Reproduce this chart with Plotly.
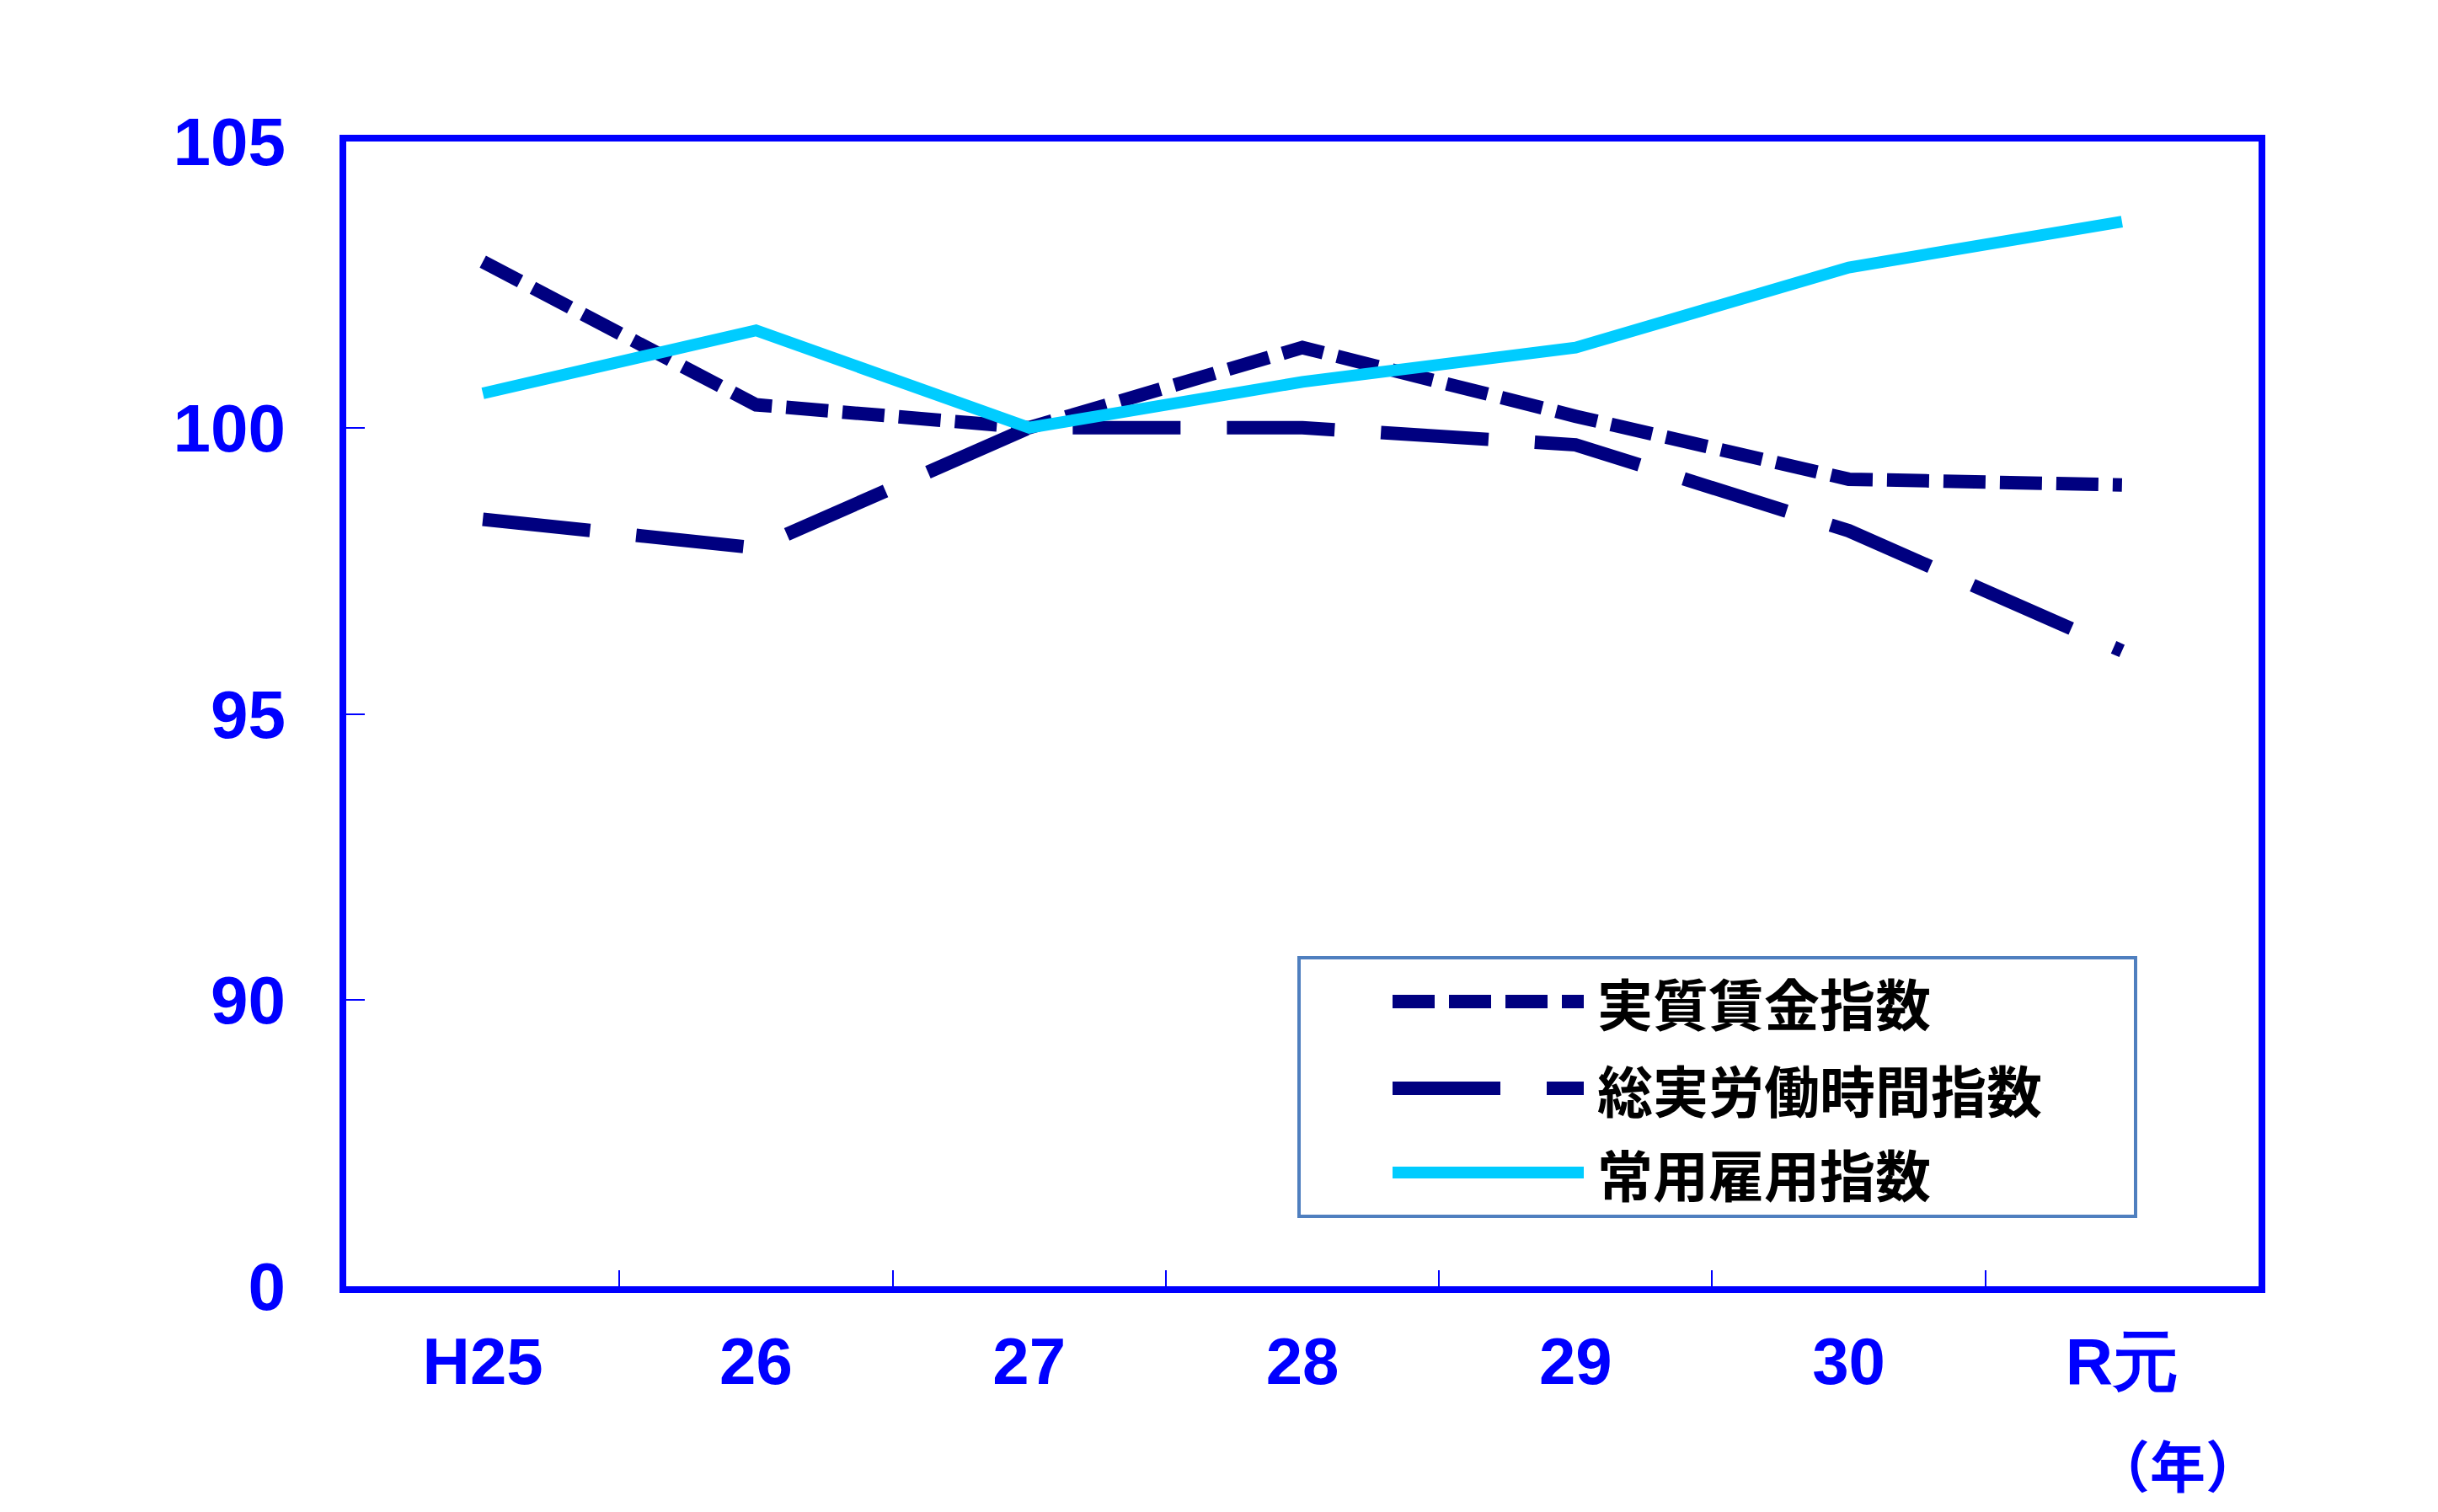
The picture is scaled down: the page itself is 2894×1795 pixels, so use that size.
import plotly.graph_objects as go

categories = ["H25", "26", "27", "28", "29", "30", "R元"]
real_wage = [102.9, 100.4, 100.0, 101.4, 100.2, 99.1, 99.0]
work_hours = [98.4, 97.9, 100.0, 100.0, 99.7, 98.2, 96.1]
employment = [100.6, 101.7, 100.0, 100.8, 101.4, 102.8, 103.6]
series_names = ["実質賃金指数", "総実労働時間指数", "常用雇用指数"]
ytick_vals = [85, 90, 95, 100, 105]
ytick_text = ["0", "90", "95", "100", "105"]

W, H = 2894, 1795
OFFX, OFFY = 7, 4
L, R, T, B = 410 - OFFX, 2680 - OFFX, 164 - OFFY, 1523 - OFFY
NAVY = "#000080"
CYAN = "#00CCFF"
BLUE = "#0000FF"
dash_short = "50px,17px"
dash_long = "128px,55px"

def px(x):
    return (x - OFFX - L) / (R - L)

def py(y):
    return (B - (y - OFFY)) / (B - T)

fig = go.Figure()
fig.add_trace(go.Scatter(x=categories, y=real_wage, mode="lines", name=series_names[0],
                         line=dict(color=NAVY, width=16, dash=dash_short)))
fig.add_trace(go.Scatter(x=categories, y=work_hours, mode="lines", name=series_names[1],
                         line=dict(color=NAVY, width=16, dash=dash_long)))
fig.add_trace(go.Scatter(x=categories, y=employment, mode="lines", name=series_names[2],
                         line=dict(color=CYAN, width=14)))

# manual legend
styles = [(NAVY, 16, dash_short), (NAVY, 16, dash_long), (CYAN, 14, "solid")]
rows = [1185, 1288, 1388]
shapes = [dict(type="rect", xref="paper", yref="paper", x0=px(1541), x1=px(2534),
               y0=py(1440), y1=py(1133), line=dict(color="#4F7FBF", width=4),
               fillcolor="white", layer="above")]
annotations = []
for (col, w, d), yy, name in zip(styles, rows, series_names):
    shapes.append(dict(type="line", xref="paper", yref="paper", x0=px(1652), x1=px(1879),
                       y0=py(yy), y1=py(yy), line=dict(color=col, width=w, dash=d), layer="above"))
    annotations.append(dict(xref="paper", yref="paper", x=px(1893), y=py(yy), xanchor="left",
                            yanchor="middle", text=name, showarrow=False,
                            font=dict(family="Noto Sans CJK JP", size=66, color="black", weight="bold")))
annotations.append(dict(xref="paper", yref="paper", x=px(2584), y=py(1733), xanchor="center",
                        yanchor="middle", text="（年）", showarrow=False,
                        font=dict(family="Noto Sans CJK JP", size=66, color=BLUE, weight="bold")))

fig.update_layout(
    width=W, height=H,
    margin=dict(l=L, r=W - R, t=T, b=H - B),
    paper_bgcolor="white", plot_bgcolor="white",
    showlegend=False,
    shapes=shapes, annotations=annotations,
    xaxis=dict(type="category", range=[-0.5, 6.5], showgrid=False, zeroline=False,
               showline=True, mirror=True, linecolor=BLUE, linewidth=8,
               ticks="inside", tickson="boundaries", ticklen=19, tickwidth=2, tickcolor=BLUE,
               ticklabelstandoff=14,
               tickfont=dict(family="Liberation Sans Narrow, Liberation Sans, Arial", size=78,
                             color=BLUE, weight="bold")),
    yaxis=dict(range=[85, 105], showgrid=False, zeroline=False,
               showline=True, mirror=True, linecolor=BLUE, linewidth=8,
               tickvals=ytick_vals, ticktext=ytick_text,
               ticks="inside", ticklen=22, tickwidth=2, tickcolor=BLUE,
               ticklabelstandoff=48,
               tickfont=dict(family="Liberation Sans, Arial", size=80, color=BLUE, weight="bold")),
)

fig.write_html("out.html")
